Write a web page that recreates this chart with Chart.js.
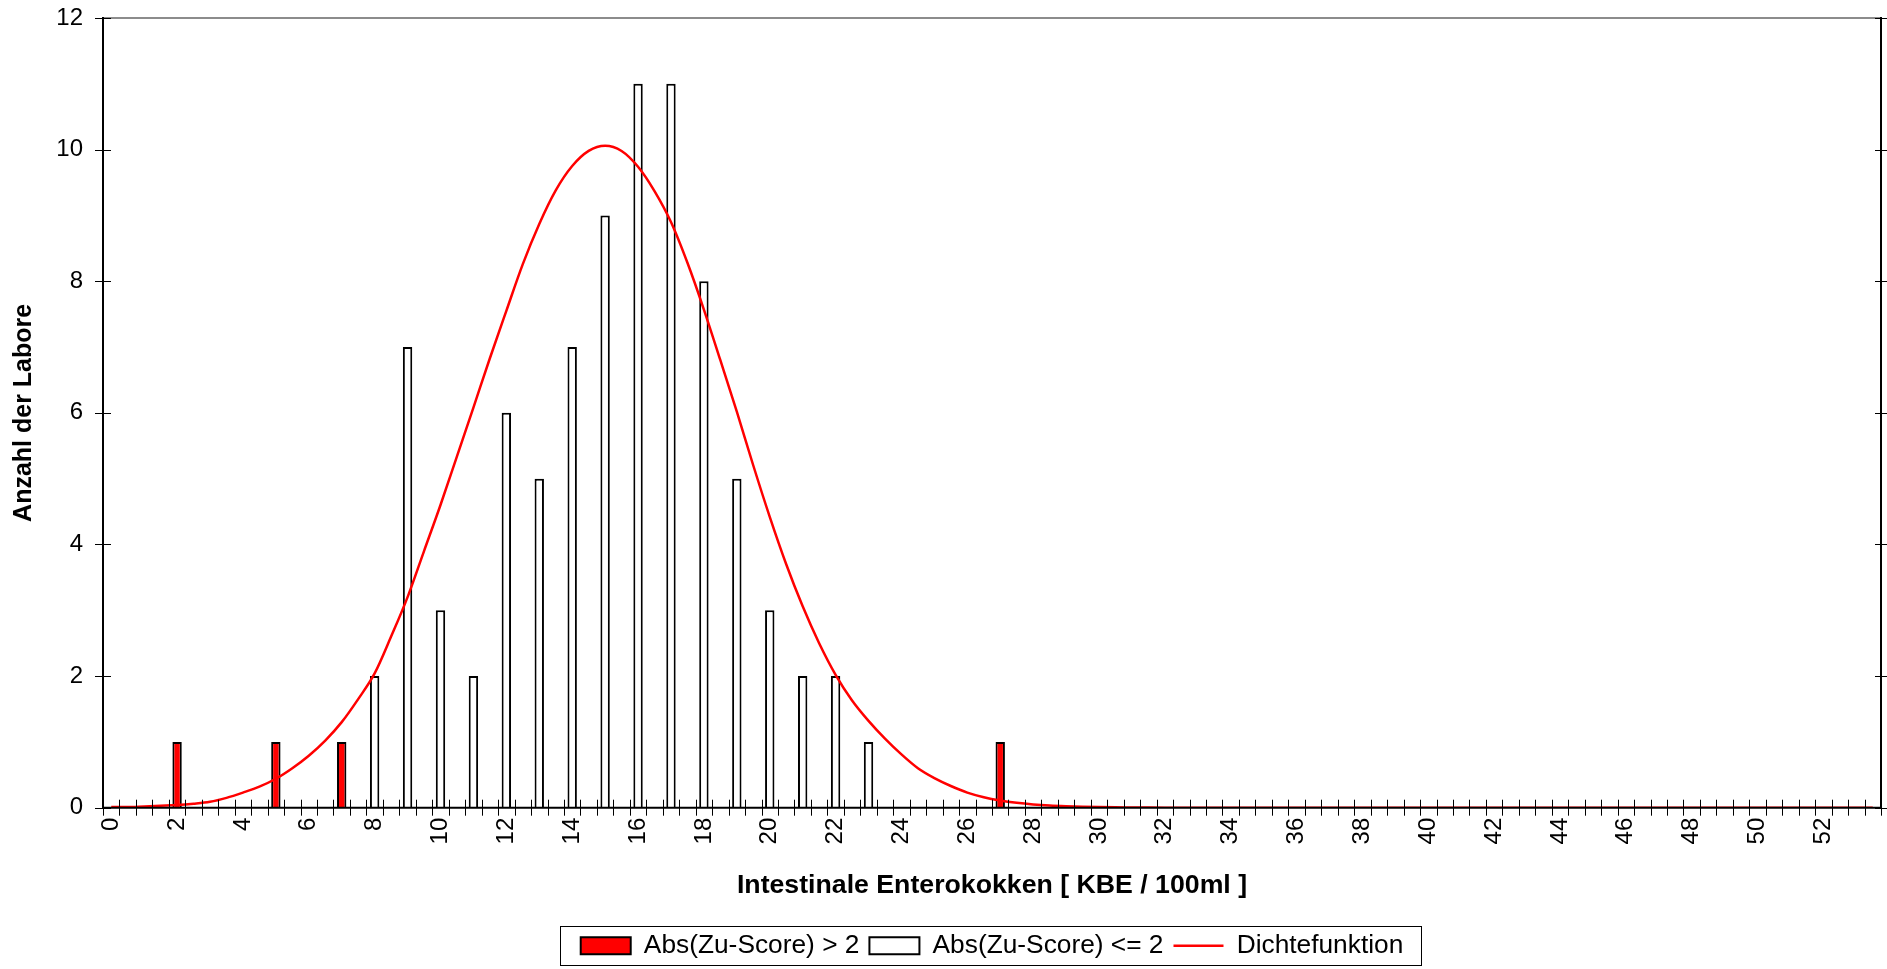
<!DOCTYPE html>
<html><head><meta charset="utf-8">
<script src="https://cdn.jsdelivr.net/npm/chart.js@4.4.0/dist/chart.umd.min.js"></script>
<style>html,body{margin:0;padding:0;background:#fff;overflow:hidden}canvas{display:block}</style>
</head><body>
<canvas id="c" width="1887" height="969"></canvas>
<script>
// x categories: 0, 0.5, 1, ... 53.5
const categories = [];
for (let i = 0; i < 108; i++) categories.push(i / 2);
const xTickLabels = [0,2,4,6,8,10,12,14,16,18,20,22,24,26,28,30,32,34,36,38,40,42,44,46,48,50,52];
const yTicks = [0,2,4,6,8,10,12];

const redX = [2,5,7,27];
const redCounts = [1,1,1,1];
const whiteX = [8,9,10,11,12,13,14,15,16,17,18,19,20,21,22,23];
const whiteCounts = [2,7,3,2,6,5,7,9,11,11,8,5,3,2,2,1];

// density curve, read at every category (0, 0.5, ... 53.5)
const densityValues = [
 0.01,0.01,0.02,0.03,0.04,0.06,0.09,0.15,0.23,0.32,
 0.44,0.60,0.79,1.02,1.30,1.65,2.04,2.60,3.20,3.90,
 4.60,5.34,6.08,6.83,7.55,8.26,8.87,9.38,9.75,9.98,
 10.06,9.98,9.74,9.37,8.90,8.28,7.57,6.80,6.02,5.20,
 4.42,3.70,3.06,2.50,2.02,1.63,1.32,1.05,0.81,0.60,
 0.45,0.33,0.23,0.16,0.11,0.075,0.05,0.033,0.022,0.014,
 0.009,0.006,0.004,0.002,0.001,0,0,0,0,0,
 0,0,0,0,0,0,0,0,0,0,
 0,0,0,0,0,0,0,0,0,0,
 0,0,0,0,0,0,0,0,0,0,
 0,0,0,0,0,0,0,0
];

function placeBars(xs, vals) {
  const arr = categories.map(() => null);
  xs.forEach((v, k) => { arr[categories.indexOf(v)] = vals[k]; });
  return arr;
}
const redData = placeBars(redX, redCounts);
const whiteData = placeBars(whiteX, whiteCounts);

const FONT = "'Liberation Sans', Arial, sans-serif";

const decor = {
  id: 'decor',
  afterDraw(chart) {
    const {ctx, chartArea: a, scales: {x, y}} = chart;
    const line = (x1, y1, x2, y2) => { ctx.beginPath(); ctx.moveTo(x1, y1); ctx.lineTo(x2, y2); ctx.stroke(); };
    ctx.save();
    ctx.strokeStyle = '#8c8c8c'; ctx.lineWidth = 2;
    line(a.left, a.top, a.right, a.top);
    ctx.strokeStyle = '#000'; ctx.lineWidth = 2;
    line(a.left, a.top - 1, a.left, a.bottom + 1);
    line(a.right, a.top - 1, a.right, a.bottom + 1);
    line(a.left, a.bottom, a.right, a.bottom);
    ctx.lineWidth = 1;
    const half = (x.getPixelForValue(1) - x.getPixelForValue(0)) / 2;
    const n = categories.length;
    for (let i = 0; i <= n; i++) {
      const c = i < n ? x.getPixelForValue(i) - half : x.getPixelForValue(n - 1) + half;
      const px = Math.round(c) + 0.5;
      line(px, a.bottom - 8, px, a.bottom + 8);
    }
    for (const t of yTicks) {
      const py = Math.round(y.getPixelForValue(t)) + 0.5;
      line(a.left - 8, py, a.left + 8, py);
      line(a.right - 6, py, a.right + 6, py);
    }
    // legend frame
    const lg = chart.legend;
    if (lg && lg.legendHitBoxes && lg.legendHitBoxes.length) {
      const hb = lg.legendHitBoxes;
      const l = Math.min(...hb.map(h => h.left)) - 21;
      const r = Math.max(...hb.map(h => h.left + h.width)) + 17;
      const cy = hb[0].top + hb[0].height / 2;
      const t = cy - 20;
      const b = cy + 19;
      ctx.strokeStyle = '#000'; ctx.lineWidth = 1;
      ctx.strokeRect(Math.round(l) + 0.5, Math.round(t) + 0.5, Math.round(r - l), Math.round(b - t));
    }
    ctx.restore();
  }
};

new Chart(document.getElementById('c'), {
  type: 'bar',
  data: {
    labels: categories.map(String),
    datasets: [
      { type: 'line', label: 'Dichtefunktion', data: densityValues, borderColor: '#ff0000', borderWidth: 2.5,
        pointRadius: 0, cubicInterpolationMode: 'monotone', fill: false, order: 0 },
      { type: 'bar', label: 'Abs(Zu-Score) > 2', data: redData, backgroundColor: '#ff0000', borderColor: '#000',
        borderWidth: 2, skipNull: true, barPercentage: 0.57, categoryPercentage: 1, order: 1 },
      { type: 'bar', label: 'Abs(Zu-Score) <= 2', data: whiteData, backgroundColor: '#ffffff', borderColor: '#000',
        borderWidth: 2, skipNull: true, barPercentage: 0.57, categoryPercentage: 1, order: 1 }
    ]
  },
  options: {
    responsive: false, animation: false, devicePixelRatio: 1,
    layout: { padding: { top: 18, right: 6, left: 0, bottom: 0 } },
    scales: {
      x: {
        type: 'category', offset: true, stacked: true,
        grid: { display: true, drawOnChartArea: false, drawTicks: true, tickLength: 10, color: 'rgba(0,0,0,0)' },
        border: { display: false },
        ticks: {
          autoSkip: false, maxRotation: 90, minRotation: 90, padding: 0,
          color: '#000', font: { family: FONT, size: 24 },
          callback: function (v, i) { return xTickLabels.includes(categories[i]) ? String(categories[i]) : ''; }
        },
        title: { display: true, text: 'Intestinale Enterokokken [ KBE / 100ml ]', color: '#000',
          font: { family: FONT, size: 26.7, weight: 'bold' }, padding: { top: 10, bottom: 21 } },
        afterFit: function (s) { s.height = 115; s.paddingRight = 0; s.paddingLeft = 0; }
      },
      y: {
        min: 0, max: 12, stacked: false,
        grid: { display: true, drawOnChartArea: false, drawTicks: true, tickLength: 17, color: 'rgba(0,0,0,0)' },
        border: { display: false },
        ticks: { stepSize: 2, padding: 3, color: '#000', font: { family: FONT, size: 24 } },
        title: { display: true, text: 'Anzahl der Labore', color: '#000',
          font: { family: FONT, size: 25, weight: 'bold' }, padding: { top: 9, bottom: 0 } },
        afterFit: function (s) { s.width = 103; }
      }
    },
    plugins: {
      tooltip: { enabled: false },
      legend: {
        position: 'bottom', fullSize: false,
        labels: {
          usePointStyle: true, pointStyleWidth: 50, boxHeight: 17, padding: 10,
          color: '#000', font: { family: FONT, size: 26.3 },
          generateLabels: function () {
            return [
              { text: 'Abs(Zu-Score) > 2', fillStyle: '#ff0000', strokeStyle: '#000', lineWidth: 2, pointStyle: 'rect', datasetIndex: 1, hidden: false },
              { text: 'Abs(Zu-Score) <= 2', fillStyle: '#ffffff', strokeStyle: '#000', lineWidth: 2, pointStyle: 'rect', datasetIndex: 2, hidden: false },
              { text: 'Dichtefunktion', fillStyle: '#ff0000', strokeStyle: '#ff0000', lineWidth: 2.5, pointStyle: 'line', datasetIndex: 0, hidden: false }
            ];
          }
        }
      }
    }
  },
  plugins: [decor]
});
</script>
</body></html>
